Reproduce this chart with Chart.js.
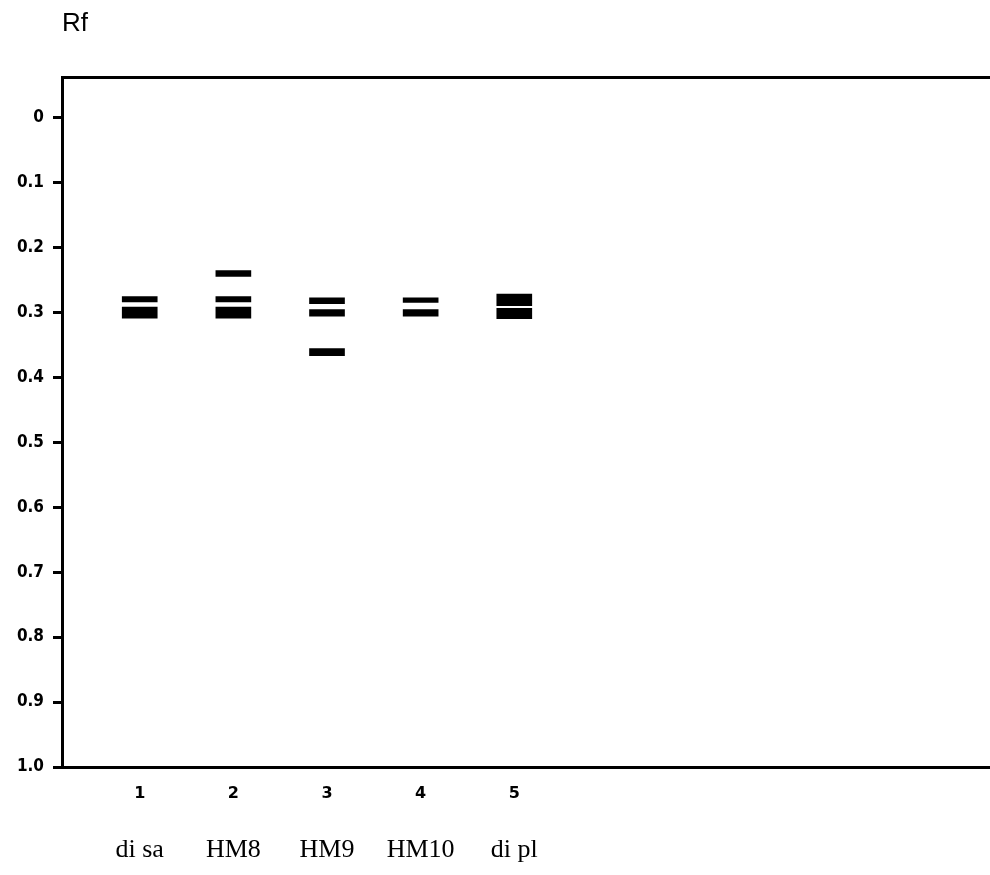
<!DOCTYPE html>
<html>
<head>
<meta charset="utf-8">
<title>Rf</title>
<script src="https://cdn.jsdelivr.net/npm/chart.js@4.4.1/dist/chart.umd.min.js"></script>
<style>
  html, body { margin: 0; padding: 0; background: #fff; }
  #wrap { width: 990px; height: 875px; }
</style>
</head>
<body>
<div id="wrap"><canvas id="grafico" width="990" height="875"></canvas></div>
<script>
// Datos del cromatograma (valores Rf)
const laneNumbers = [1, 2, 3, 4, 5];
const laneNames = ['di sa', 'HM8', 'HM9', 'HM10', 'di pl'];
const yTicks = [0, 0.1, 0.2, 0.3, 0.4, 0.5, 0.6, 0.7, 0.8, 0.9, 1.0];

// Bandas por carril: [Rf inicio, Rf fin]
const bandsLane1 = [[0.276, 0.284], [0.292, 0.309]];
const bandsLane2 = [[0.236, 0.245], [0.276, 0.284], [0.292, 0.309]];
const bandsLane3 = [[0.278, 0.287], [0.296, 0.306], [0.356, 0.367]];
const bandsLane4 = [[0.278, 0.285], [0.296, 0.306]];
const bandsLane5 = [[0.272, 0.290], [0.294, 0.310]];

const allBands = [bandsLane1, bandsLane2, bandsLane3, bandsLane4, bandsLane5];

// Rango de los ejes (0 queda algo por debajo del borde superior)
const yMin = -0.062;
const yMax = 1.0;
const xMin = 0.17;
const xMax = 10.08;

const negro = '#000';

// puntos para las barras flotantes
const puntos = [];
allBands.forEach((bandas, i) => {
    bandas.forEach(b => puntos.push({ x: laneNumbers[i], y: b }));
});

const soloCarriles = scale => {
    scale.ticks = laneNumbers.map(v => ({ value: v }));
};

const ctx = document.getElementById('grafico').getContext('2d');
new Chart(ctx, {
    type: 'bar',
    data: {
        datasets: [{
            data: puntos,
            backgroundColor: negro,
            borderWidth: 0,
            barThickness: 35,
            grouped: false
        }]
    },
    options: {
        responsive: false,
        animation: false,
        devicePixelRatio: 1,
        layout: { padding: 0 },
        plugins: {
            legend: { display: false },
            tooltip: { enabled: false },
            title: {
                display: true,
                text: 'Rf',
                align: 'start',
                fullSize: false,
                color: negro,
                font: { family: "'Liberation Sans', Arial, sans-serif", size: 26, weight: 'normal' },
                padding: { top: 8, bottom: 37.8 }
            }
        },
        scales: {
            x: {
                type: 'linear',
                position: 'bottom',
                offset: false,
                min: xMin,
                max: xMax,
                afterBuildTicks: soloCarriles,
                afterFit: s => { s.height = 36; },
                grid: { display: false, drawTicks: false, offset: false },
                border: { display: true, color: negro, width: 3 },
                ticks: {
                    color: negro,
                    padding: 17,
                    maxRotation: 0,
                    autoSkip: false,
                    font: { family: "'DejaVu Sans', sans-serif", size: 16, weight: 'bold' },
                    callback: v => String(v)
                }
            },
            xNombres: {
                type: 'linear',
                position: 'bottom',
                weight: 1,
                offset: false,
                min: xMin,
                max: xMax,
                afterBuildTicks: soloCarriles,
                afterFit: s => { s.height = 72; },
                grid: { display: false, drawTicks: false, offset: false },
                border: { display: false },
                ticks: {
                    color: negro,
                    padding: 32,
                    maxRotation: 0,
                    autoSkip: false,
                    font: { family: "'Liberation Serif', 'Times New Roman', serif", size: 26 },
                    callback: v => laneNames[laneNumbers.indexOf(v)]
                }
            },
            xTop: {
                type: 'linear',
                position: 'top',
                offset: false,
                min: xMin,
                max: xMax,
                afterFit: s => { s.height = 0; },
                grid: { display: false, drawTicks: false },
                border: { display: true, color: negro, width: 3 },
                ticks: { display: false }
            },
            y: {
                type: 'linear',
                reverse: true,
                min: yMin,
                max: yMax,
                afterBuildTicks: scale => {
                    scale.ticks = yTicks.map(v => ({ value: v }));
                },
                afterFit: s => { s.width = 62; },
                grid: {
                    drawOnChartArea: false,
                    tickLength: 9,
                    tickWidth: 3,
                    tickColor: negro,
                    color: negro
                },
                border: { display: true, color: negro, width: 3 },
                ticks: {
                    color: negro,
                    padding: 9,
                    font: { family: "'Liberation Sans Narrow', 'DejaVu Sans Condensed', sans-serif", size: 17, weight: 'bold' },
                    callback: v => (v === 0 ? '0' : v.toFixed(1))
                }
            }
        }
    }
});
</script>
</body>
</html>
